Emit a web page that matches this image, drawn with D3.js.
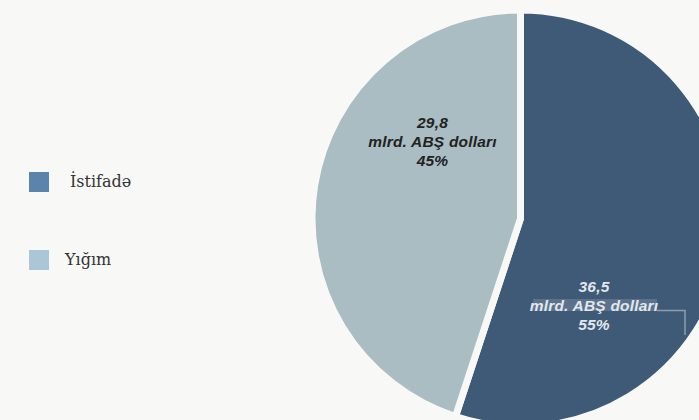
<!DOCTYPE html>
<html>
<head>
<meta charset="utf-8">
<script src="https://cdn.jsdelivr.net/npm/d3@7"></script>
<style>
  html, body { margin: 0; padding: 0; background: #f8f8f6; }
  svg { display: block; }
</style>
</head>
<body>
<svg id="chart" width="699" height="420"></svg>
<script>
// Categories and values (billion USD)
const categories = ["İstifadə", "Yığım"];
const values = [36.5, 29.8];
const shareLabels = ["55%", "45%"];
const valueLabels = ["36,5", "29,8"];
const unitLabel = "mlrd. ABŞ dolları";

const sliceColors = ["#3e5a77", "#a9bdc2"];
const legendColors = ["#5b84ad", "#abc6d6"];
const labelColors = ["#e2e7ee", "#222222"];

const svg = d3.select("#chart");
const W = 699, H = 420;

svg.append("rect").attr("width", W).attr("height", H).attr("fill", "#f8f8f6");

const cx = 520.5, cy = 218.5, r = 208.5;

const pie = d3.pie().sort(null).value(d => d.value);
const arc = d3.arc().innerRadius(0).outerRadius(r);

const data = categories.map((c, i) => ({ name: c, value: values[i], i }));
const arcs = pie(data);

const g = svg.append("g").attr("transform", `translate(${cx},${cy})`);

g.selectAll("path.slice")
  .data(arcs)
  .join("path")
  .attr("class", "slice")
  .attr("d", arc)
  .attr("fill", d => sliceColors[d.data.i])
  .attr("stroke", "#f8f8f6")
  .attr("stroke-width", 7)
  .attr("stroke-linejoin", "miter");

// Slice labels: value, unit, share (offsets of the middle line from the centre)
const labelPos = [[73.5, 89.5], [-88, -74.5]];
arcs.forEach(a => {
  const i = a.data.i;
  const [lx, ly] = labelPos[i];
  const t = g.append("g").attr("transform", `translate(${lx},${ly})`);
  if (i === 0) {
    // light band behind the unit line with its leader
    t.append("rect").attr("x", -61).attr("y", -9).attr("width", 124).attr("height", 12)
      .attr("fill", "#72869a").attr("opacity", 0.55);
    t.append("path").attr("d", "M63,2.5 H91 V27")
      .attr("fill", "none").attr("stroke", "#8e9eae").attr("stroke-width", 1.5);
  }
  const lines = [valueLabels[i], unitLabel, shareLabels[i]];
  t.selectAll("text")
    .data(lines)
    .join("text")
    .attr("x", 0)
    .attr("y", (d, j) => (j - 1) * 19 + 3)
    .attr("text-anchor", "middle")
    .attr("font-family", "Liberation Sans, Arial, sans-serif")
    .attr("font-size", 15.5)
    .attr("font-weight", "bold")
    .attr("font-style", "italic")
    .attr("letter-spacing", 0.2)
    .attr("fill", labelColors[i])
    .text(d => d);
});

// Legend
const legendY = [172, 250];
const legend = svg.append("g");
categories.forEach((c, i) => {
  legend.append("rect")
    .attr("x", 29).attr("y", legendY[i])
    .attr("width", 20).attr("height", 20)
    .attr("fill", legendColors[i]);
  legend.append("text")
    .attr("x", i === 0 ? 70 : 65)
    .attr("y", legendY[i] + 15)
    .attr("font-family", "DejaVu Serif, serif")
    .attr("font-size", 16)
    .attr("fill", "#333333")
    .text(c);
});
</script>
</body>
</html>
